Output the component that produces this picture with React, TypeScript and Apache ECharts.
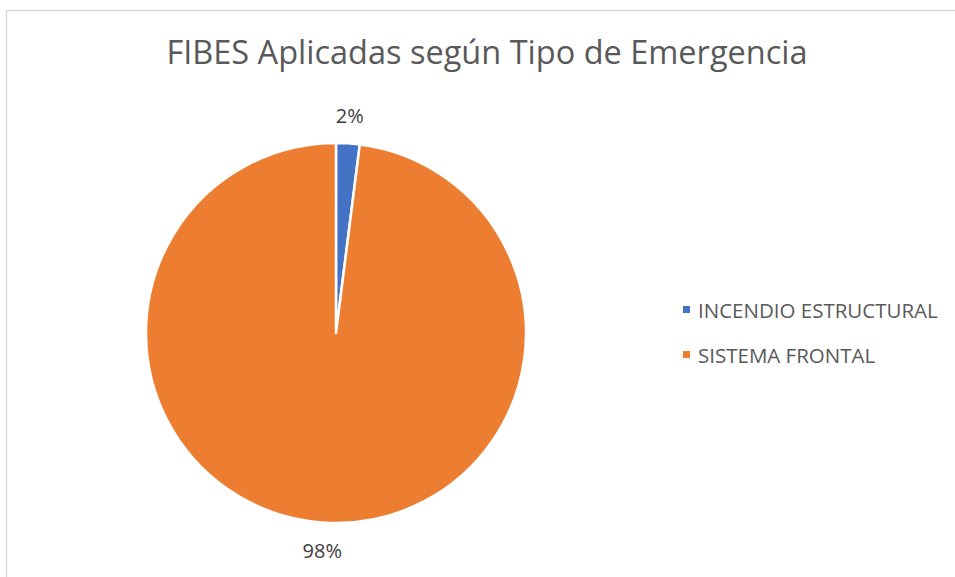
import React, { useEffect, useRef } from "react";
import * as echarts from "echarts";

const categories = ["INCENDIO ESTRUCTURAL", "SISTEMA FRONTAL"];
const values = [2, 98];
const colors = ["#4472C4", "#ED7D31"];
const titleText = "FIBES Aplicadas según Tipo de Emergencia";

export default function App() {
  const ref = useRef<HTMLDivElement>(null);
  useEffect(() => {
    if (!ref.current) return;
    const chart = echarts.init(ref.current, null, { renderer: "svg" });
    chart.setOption({
      animation: false,
      backgroundColor: "#ffffff",
      title: {
        text: titleText,
        left: 482,
        textAlign: "center",
        top: 30,
        textStyle: {
          fontFamily: "Open Sans",
          fontSize: 32.5,
          fontWeight: "normal",
          color: "#595959",
        },
      },
      legend: {
        orient: "vertical",
        left: 676,
        top: 294,
        itemWidth: 9,
        itemHeight: 9,
        itemGap: 24,
        icon: "rect",
        textStyle: {
          fontFamily: "Open Sans",
          fontSize: 20.5,
          color: "#595959",
          padding: [0, 0, 0, 2],
        },
        data: categories,
      },
      graphic: [
        {
          type: "rect",
          shape: { x: 6.5, y: 10.5, width: 1000, height: 1000 },
          style: { fill: "none", stroke: "#d9d9d9", lineWidth: 1.5 },
          silent: true,
        },
      ],
      series: [
        {
          type: "pie",
          center: [336, 333],
          radius: 190,
          startAngle: 90,
          clockwise: true,
          itemStyle: { borderColor: "#ffffff", borderWidth: 2.5 },
          label: {
            show: true,
            position: "outside",
            formatter: "{c}%",
            fontFamily: "Open Sans",
            fontSize: 20,
            color: "#404040",
          },
          labelLine: { show: false, length: 28, length2: 0 },
          labelLayout: (params: any) => {
            const p = params.labelLinePoints;
            if (!p || !p[1]) return {};
            return { x: p[1][0], y: p[1][1], align: "center", verticalAlign: "middle" };
          },
          data: categories.map((c, i) => ({
            name: c,
            value: values[i],
            itemStyle: { color: colors[i] },
          })),
        },
      ],
    });
    return () => chart.dispose();
  }, []);
  return (
    <div
      ref={ref}
      style={{ position: "fixed", left: 0, top: 0, width: 955, height: 577 }}
    />
  );
}
